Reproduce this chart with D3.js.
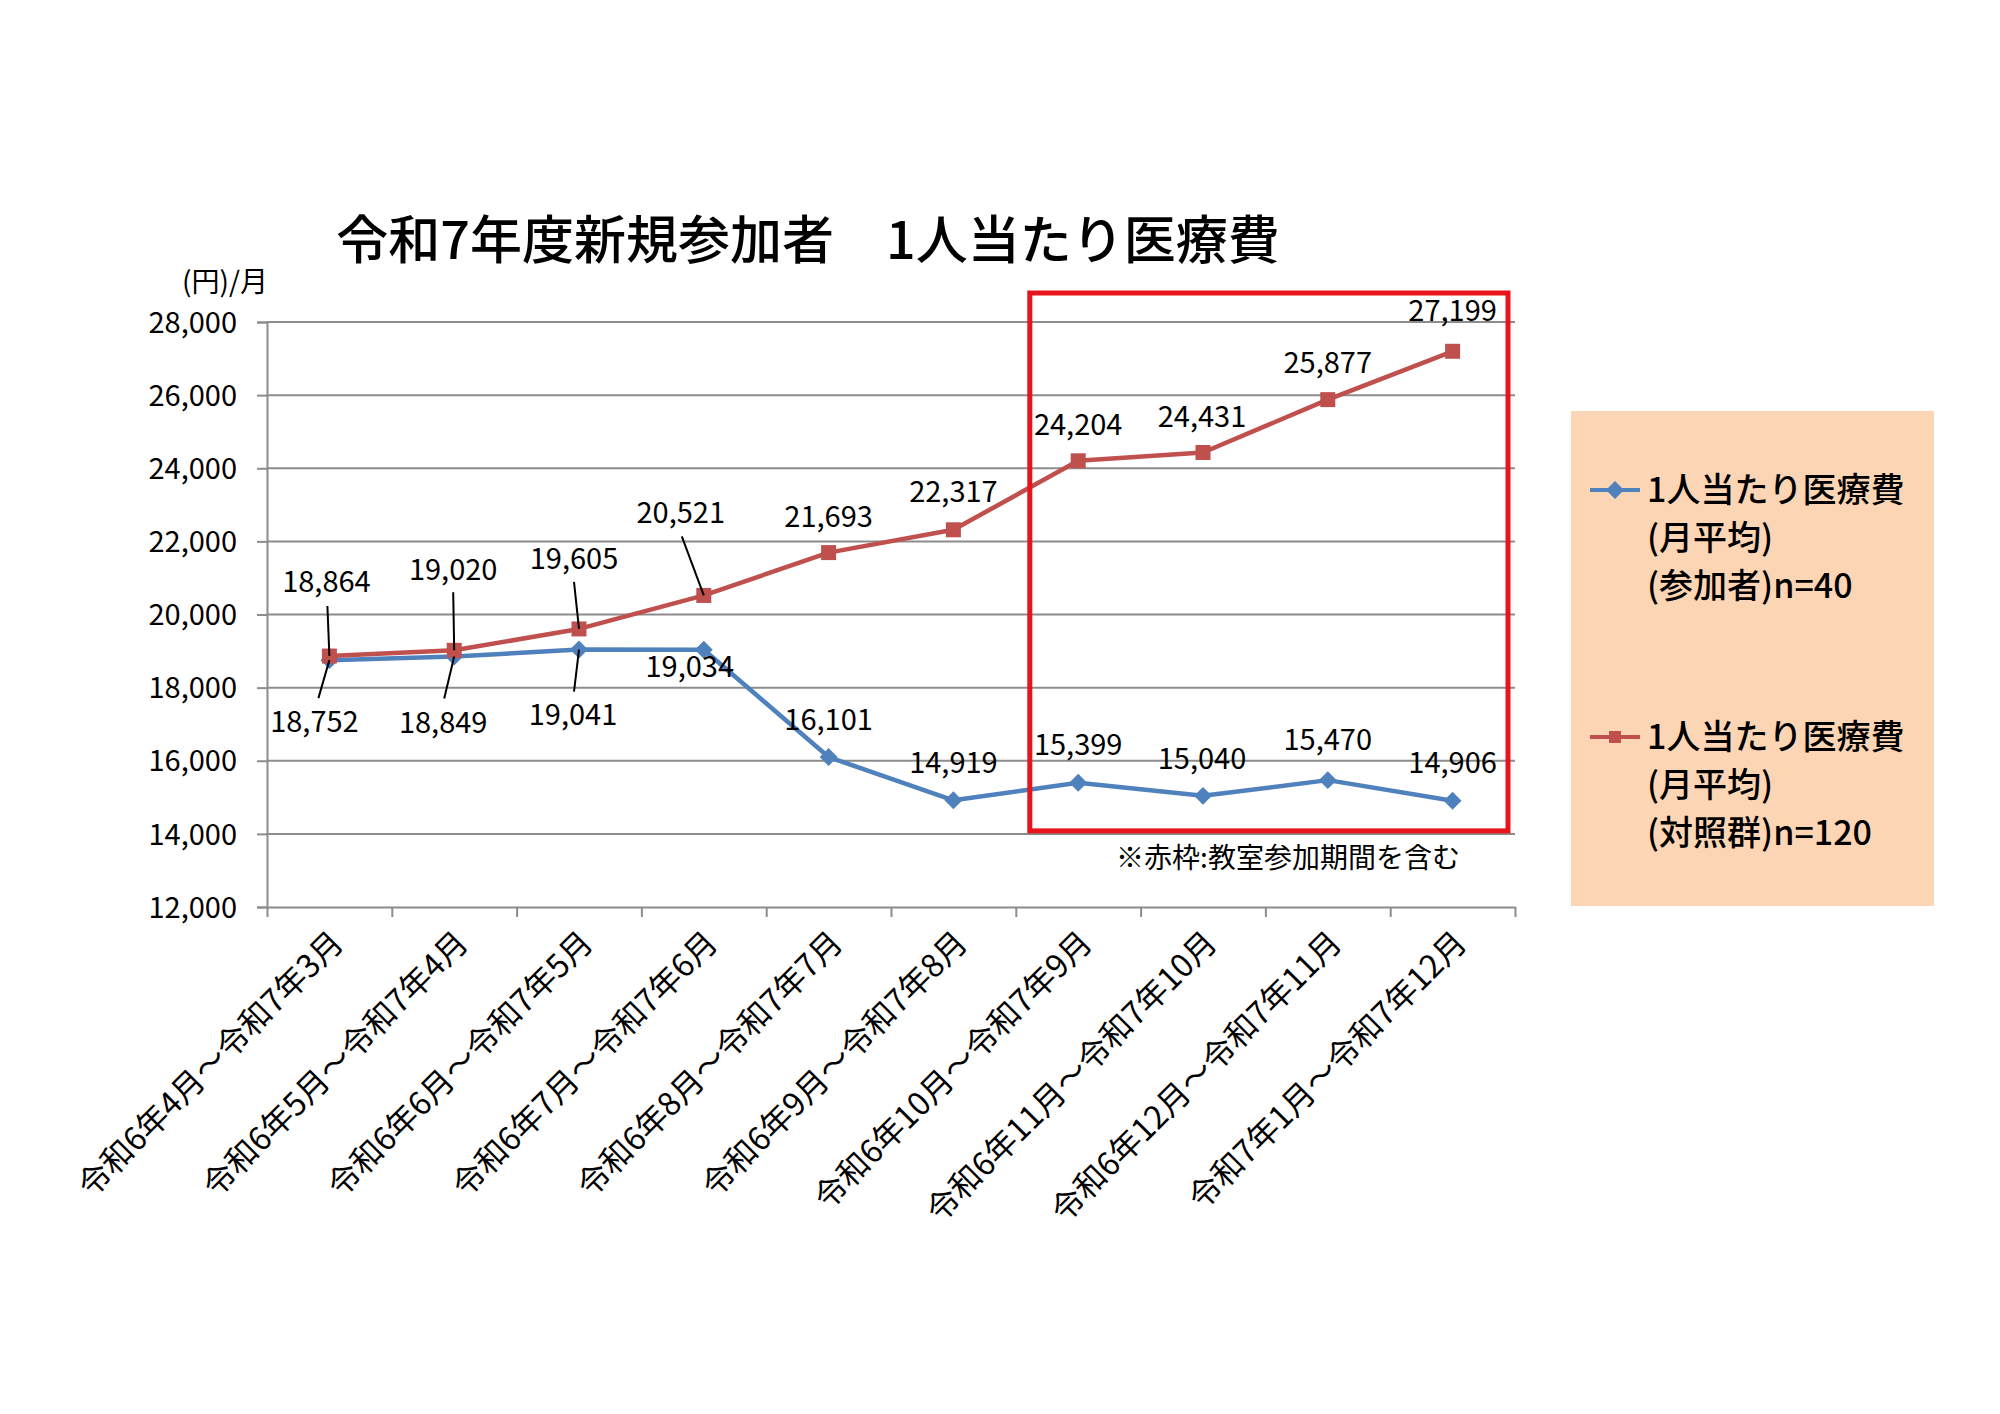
<!DOCTYPE html>
<html lang="ja">
<head>
    <meta charset="UTF-8">
    <title>令和7年度新規参加者 1人当たり医療費</title>
    <style type="text/css">
        html, body { padding:0; margin:0; background:#fff; }
        text { font-family: "Noto Sans CJK JP", "Noto Sans", sans-serif; fill:#000; }
    </style>
</head>
<body>
<script src="https://d3js.org/d3.v7.min.js"></script>
<script type="text/javascript">
    // data
    var categories = [
        '令和6年4月～令和7年3月', '令和6年5月～令和7年4月', '令和6年6月～令和7年5月',
        '令和6年7月～令和7年6月', '令和6年8月～令和7年7月', '令和6年9月～令和7年8月',
        '令和6年10月～令和7年9月', '令和6年11月～令和7年10月', '令和6年12月～令和7年11月',
        '令和7年1月～令和7年12月'
    ];
    var participants = [18752, 18849, 19041, 19034, 16101, 14919, 15399, 15040, 15470, 14906];
    var controls = [18864, 19020, 19605, 20521, 21693, 22317, 24204, 24431, 25877, 27199];
    var yTicks = [12000, 14000, 16000, 18000, 20000, 22000, 24000, 26000, 28000];
    var legendLabels = [
        ['1人当たり医療費', '(月平均)', '(参加者)n=40'],
        ['1人当たり医療費', '(月平均)', '(対照群)n=120']
    ];
    var highlightFrom = 6, highlightTo = 9;

    // label offsets from the marker: [dx, dy, leaderDx, leaderDy]
    var blueLabelPos = [[-15, 62, -11, 38], [-11, 66, -10, 42], [-6, 65, -5, 42], [-14, 17],
                        [0, -37], [0, -37], [0, -38], [-1, -37], [0, -40], [0, -38]];
    var redLabelPos = [[-3, -74, -2, -50], [-1, -80, -1, -58], [-5, -70, -5, -47], [-23, -83, -22, -59],
                       [0, -36], [0, -38], [0, -36], [-1, -36], [0, -37], [0, -40]];

    var width = 2000,
        height = 1414,
        plotLeft = 267, plotRight = 1515, plotTop = 322, plotBottom = 907,
        blue = '#4F81BD', red = '#C0504D', gridColor = '#8c8c8c';

    var svg = d3.select('body').append('svg')
        .attr('width', width)
        .attr('height', height);

    var xBand = d3.scaleBand().domain(categories).range([plotLeft, plotRight]).padding(0);
    var xEdge = d3.scaleLinear().domain([0, categories.length]).range([plotLeft, plotRight]);
    var yScale = d3.scaleLinear().domain([12000, 28000]).range([plotBottom, plotTop]);
    var fmt = d3.format(',');
    function cx(i) { return xBand(categories[i]) + xBand.bandwidth() / 2; }

    // title
    svg.append('text')
        .attr('x', 808).attr('y', 259)
        .attr('text-anchor', 'middle')
        .style('font-size', '52px')
        .style('font-weight', 500)
        .text('令和7年度新規参加者　1人当たり医療費');

    svg.append('text')
        .attr('x', 268).attr('y', 292)
        .attr('text-anchor', 'end')
        .style('font-size', '28px')
        .text('(円)/月');

    // gridlines
    svg.append('g')
        .selectAll('line')
        .data(yTicks.slice(1))
        .enter()
        .append('line')
        .attr('x1', plotLeft).attr('x2', plotRight)
        .attr('y1', function(d) { return yScale(d); })
        .attr('y2', function(d) { return yScale(d); })
        .attr('stroke', gridColor)
        .attr('stroke-width', 2);

    // y axis
    var yAxis = d3.axisLeft(yScale).tickValues(yTicks).tickFormat(fmt).tickSize(10).tickPadding(20);
    var gy = svg.append('g').attr('class', 'y-axis')
        .attr('transform', 'translate(' + plotLeft + ',0)')
        .call(yAxis);
    gy.selectAll('line, path').attr('stroke', gridColor).attr('stroke-width', 2);
    gy.selectAll('text').style('font-size', '29px').attr('dy', '0.35em');

    // x axis: ticks on category boundaries
    var xAxis = d3.axisBottom(xEdge).tickValues(d3.range(categories.length + 1)).tickFormat('').tickSize(10).tickSizeOuter(0);
    var gx = svg.append('g').attr('class', 'x-axis')
        .attr('transform', 'translate(0,' + plotBottom + ')')
        .call(xAxis);
    gx.selectAll('line, path').attr('stroke', gridColor).attr('stroke-width', 2);

    svg.append('g')
        .selectAll('text')
        .data(categories)
        .enter()
        .append('text')
        .attr('transform', function(d, i) {
            return 'translate(' + (cx(i) + 8) + ',' + (plotBottom + 30) + ') rotate(-45)';
        })
        .attr('text-anchor', 'end')
        .attr('dy', '0.35em')
        .style('font-size', '32px')
        .text(function(d) { return d; });

    // series lines
    var line = d3.line()
        .x(function(d, i) { return cx(i); })
        .y(function(d) { return yScale(d); });

    [[participants, blue], [controls, red]].forEach(function(s) {
        svg.append('path')
            .attr('d', line(s[0]))
            .attr('fill', 'none')
            .attr('stroke', s[1])
            .attr('stroke-width', 4.5)
            .attr('stroke-linejoin', 'round');
    });

    // markers
    var diamond = d3.symbol().type(d3.symbolSquare).size(160);
    var square = d3.symbol().type(d3.symbolSquare).size(225);

    svg.append('g')
        .selectAll('path')
        .data(participants)
        .enter()
        .append('path')
        .attr('d', diamond)
        .attr('fill', blue)
        .attr('transform', function(d, i) {
            return 'translate(' + cx(i) + ',' + yScale(d) + ') rotate(45)';
        });

    svg.append('g')
        .selectAll('path')
        .data(controls)
        .enter()
        .append('path')
        .attr('d', square)
        .attr('fill', red)
        .attr('transform', function(d, i) {
            return 'translate(' + cx(i) + ',' + yScale(d) + ')';
        });

    // data labels and leader lines
    function renderLabels(values, pos) {
        var g = svg.append('g');
        values.forEach(function(v, i) {
            var x = cx(i), y = yScale(v), p = pos[i];
            if (p.length > 2) {
                g.append('line')
                    .attr('x1', x).attr('y1', y)
                    .attr('x2', x + p[2]).attr('y2', y + p[3])
                    .attr('stroke', '#000')
                    .attr('stroke-width', 2);
            }
            g.append('text')
                .attr('x', x + p[0]).attr('y', y + p[1])
                .attr('text-anchor', 'middle')
                .attr('dy', '0.35em')
                .style('font-size', '29px')
                .text(fmt(v));
        });
    }
    renderLabels(controls, redLabelPos);
    renderLabels(participants, blueLabelPos);

    // red frame around the class-participation period
    var boxLeft = xEdge(highlightFrom) + 14,
        boxRight = xEdge(highlightTo + 1) - 7;
    svg.append('rect')
        .attr('x', boxLeft).attr('y', yScale(28000) - 29)
        .attr('width', boxRight - boxLeft)
        .attr('height', yScale(14000) - yScale(28000) + 26)
        .attr('fill', 'none')
        .attr('stroke', '#E8141B')
        .attr('stroke-width', 5);

    svg.append('text')
        .attr('x', 1288).attr('y', 858)
        .attr('text-anchor', 'middle')
        .attr('dy', '0.35em')
        .style('font-size', '28px')
        .text('※赤枠:教室参加期間を含む');

    // legend
    var legend = svg.append('g');
    legend.append('rect')
        .attr('x', 1571).attr('y', 411)
        .attr('width', 363).attr('height', 495)
        .attr('fill', '#FCD5B5');

    var legendY = [490, 737];
    [[blue, diamond, 45], [red, d3.symbol().type(d3.symbolSquare).size(144), 0]].forEach(function(s, k) {
        var ly = legendY[k];
        legend.append('line')
            .attr('x1', 1590).attr('x2', 1640)
            .attr('y1', ly).attr('y2', ly)
            .attr('stroke', s[0]).attr('stroke-width', 4);
        legend.append('path')
            .attr('d', s[1])
            .attr('fill', s[0])
            .attr('transform', 'translate(1615,' + ly + ') rotate(' + s[2] + ')');
        legend.append('g')
            .selectAll('text')
            .data(legendLabels[k])
            .enter()
            .append('text')
            .attr('x', 1647)
            .attr('y', function(d, j) { return ly + j * 48; })
            .attr('dy', '0.35em')
            .style('font-size', '34px')
            .style('font-weight', 500)
            .text(function(d) { return d; });
    });
</script>
</body>
</html>
